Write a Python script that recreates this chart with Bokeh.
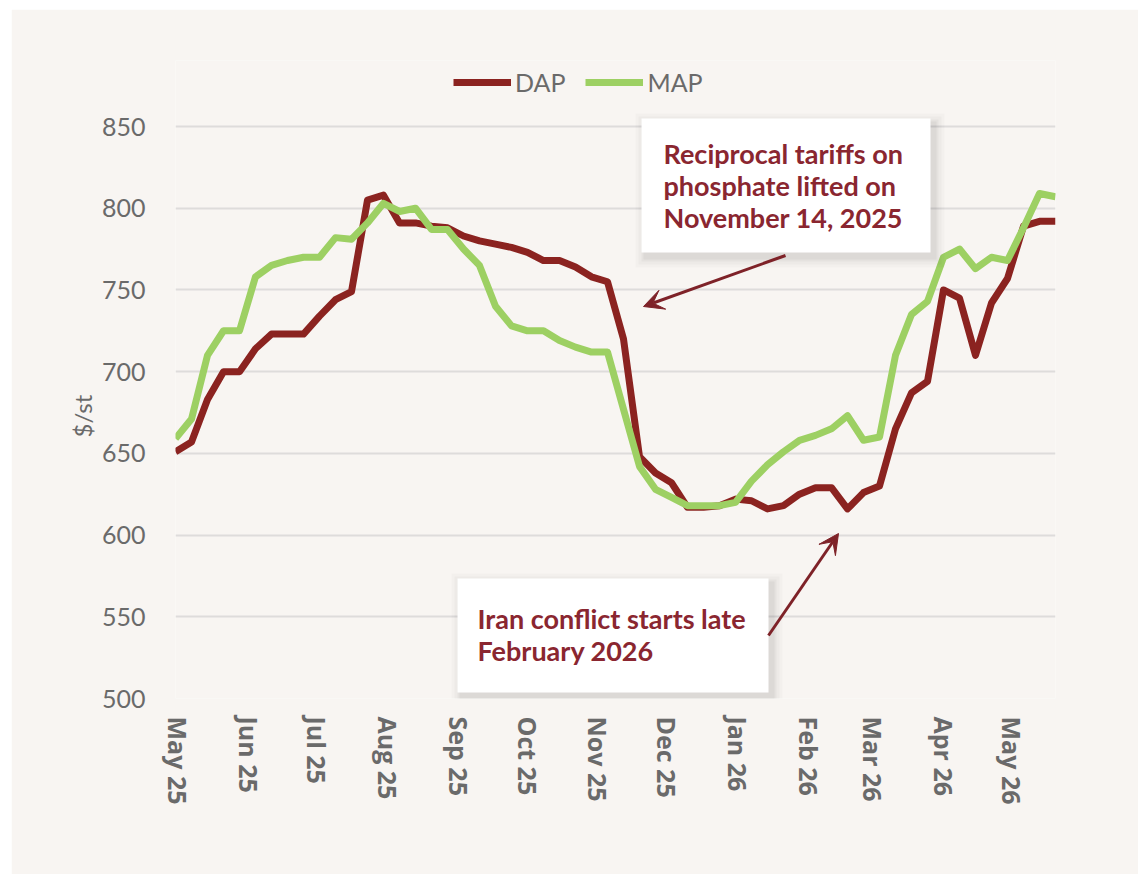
import pandas as pd
from bokeh.plotting import figure
from bokeh.models import (ColumnDataSource, FixedTicker, DatetimeTickFormatter, Legend, LegendItem,
                          BoxAnnotation, Label, Arrow, VeeHead, Range1d, Title)
from bokeh.embed import file_html
from bokeh.resources import INLINE

# ---------------- data ----------------
first_week = "2025-04-30"
dap = [651, 657, 683, 700, 700, 714, 723, 723, 723, 734, 744, 749, 805, 808, 791, 791,
       789, 788, 783, 780, 778, 776, 773, 768, 768, 764, 758, 755, 720, 648, 638, 632,
       617, 617, 618, 622, 621, 616, 618, 625, 629, 629, 616, 626, 630, 665, 687, 694,
       750, 745, 710, 742, 757, 789, 792, 792]
map_ = [659, 671, 710, 725, 725, 758, 765, 768, 770, 770, 782, 781, 791, 803, 798, 800,
        787, 787, 775, 765, 740, 728, 725, 725, 719, 715, 712, 712, 677, 642, 628, 623,
        618, 618, 618, 620, 633, 643, 651, 658, 661, 665, 673, 658, 660, 710, 735, 743,
        770, 775, 763, 770, 768, 788, 809, 807]
month_ticks = ["2025-05-01", "2025-06-01", "2025-07-01", "2025-08-01", "2025-09-01",
               "2025-10-01", "2025-11-01", "2025-12-01", "2026-01-01", "2026-02-01",
               "2026-03-01", "2026-04-01", "2026-05-01"]
y_ticks = [500, 550, 600, 650, 700, 750, 800, 850]
series_names = ["DAP", "MAP"]
y_title = "$/st"
note_tariffs = "Reciprocal tariffs on\nphosphate lifted on\nNovember 14, 2025"
note_iran = "Iran conflict starts late\nFebruary 2026"

# ---------------- styling ----------------
BG = "#f8f5f2"
DAP_C = "#8b2320"
MAP_C = "#9dd063"
TXT = "#6a6a6a"
NOTE_C = "#8a2630"

dates = pd.date_range(first_week, periods=len(dap), freq="7D")
src = ColumnDataSource(dict(date=dates, dap=dap, map=map_))

# frame spans page y 60..698; 850 sits at y=126 (headroom above holds the legend)
y_top = 500 + 638 / (572 / 350)
p = figure(width=1127, height=865, x_axis_type="datetime",
           output_backend="svg", toolbar_location=None,
           x_range=Range1d(dates[0], dates[-1]), y_range=Range1d(500, y_top),
           min_border_left=164, min_border_right=83, min_border_top=51, min_border_bottom=176)
p.margin = (9, 0, 0, 11)
p.background_fill_color = BG
p.border_fill_color = BG
p.outline_line_color = None

r_dap = p.line("date", "dap", source=src, line_color=DAP_C, line_width=7, line_join="round")
r_map = p.line("date", "map", source=src, line_color=MAP_C, line_width=7, line_join="round")

# axes
tick_ms = [pd.Timestamp(t).value // 10**6 for t in month_ticks]
p.xaxis.ticker = FixedTicker(ticks=tick_ms)
fmt = "%b %y"
p.xaxis.formatter = DatetimeTickFormatter(milliseconds=fmt, seconds=fmt, minsec=fmt, minutes=fmt,
                                          hourmin=fmt, hours=fmt, days=fmt, months=fmt, years=fmt)
p.xaxis.major_label_orientation = "vertical"
p.xaxis.major_label_text_font = "Open Sans"
p.xaxis.major_label_text_font_style = "bold"
p.xaxis.major_label_text_font_size = "25px"
p.xaxis.major_label_text_color = TXT
p.xaxis.major_label_standoff = 12

p.yaxis.ticker = FixedTicker(ticks=y_ticks)
p.yaxis.major_label_text_font = "Lato"
p.yaxis.major_label_text_font_size = "25px"
p.yaxis.major_label_text_color = TXT
p.yaxis.major_label_standoff = 24

for ax in (p.xaxis, p.yaxis):
    ax.axis_line_color = None
    ax.major_tick_line_color = None
    ax.minor_tick_line_color = None

p.xgrid.grid_line_color = None
p.ygrid.ticker = FixedTicker(ticks=y_ticks)
p.ygrid.grid_line_color = "#dedcdb"
p.ygrid.grid_line_width = 2

# y-axis title, placed on the 500-850 span
p.add_layout(Title(text=y_title, align="left", offset=261, standoff=4,
                   text_font="Lato", text_font_style="normal", text_font_size="24px",
                   text_color=TXT), "left")

# legend
legend = Legend(items=[LegendItem(label=series_names[0], renderers=[r_dap]),
                       LegendItem(label=series_names[1], renderers=[r_map])],
                orientation="horizontal", location=(278, 601),
                label_text_font="Lato", label_text_font_size="25px", label_text_color=TXT,
                glyph_width=58, glyph_height=28, label_standoff=4, spacing=20,
                padding=0, margin=0, background_fill_alpha=0, border_line_color=None)
p.add_layout(legend, "center")

# annotation boxes (screen units relative to frame bottom-left)
def note_box(l, r, t, b):
    for k, a in [(10, 0.018), (7, 0.022), (4, 0.03), (2, 0.04)]:
        p.add_layout(BoxAnnotation(left=l - k + 4, right=r + k + 4, top=t + k - 5, bottom=b - k - 5,
                                   left_units="screen", right_units="screen",
                                   top_units="screen", bottom_units="screen",
                                   fill_color="black", fill_alpha=a, line_color=None))
    p.add_layout(BoxAnnotation(left=l, right=r, top=t, bottom=b,
                               left_units="screen", right_units="screen",
                               top_units="screen", bottom_units="screen",
                               fill_color="white", fill_alpha=1, line_color=None))

note_box(466, 755, 580, 446)
note_box(282, 593, 120, 6)

p.add_layout(Label(x=488, y=562, x_units="screen", y_units="screen", text=note_tariffs,
                   text_font="Lato", text_font_style="bold", text_font_size="27px",
                   text_color=NOTE_C, text_align="left", text_baseline="top",
                   text_line_height=0.97))
p.add_layout(Label(x=302, y=97, x_units="screen", y_units="screen", text=note_iran,
                   text_font="Lato", text_font_style="bold", text_font_size="27px",
                   text_color=NOTE_C, text_align="left", text_baseline="top",
                   text_line_height=0.97))

# arrows
for (xs, ys, xe, ye) in [(610, 443, 468, 392), (593, 63, 663, 165)]:
    p.add_layout(Arrow(x_start=xs, y_start=ys, x_end=xe, y_end=ye,
                       start_units="screen", end_units="screen",
                       line_color="#7e2228", line_width=3,
                       end=VeeHead(size=20, fill_color="#7e2228", line_color="#7e2228")))

open("out.html", "w").write(file_html(p, INLINE))
